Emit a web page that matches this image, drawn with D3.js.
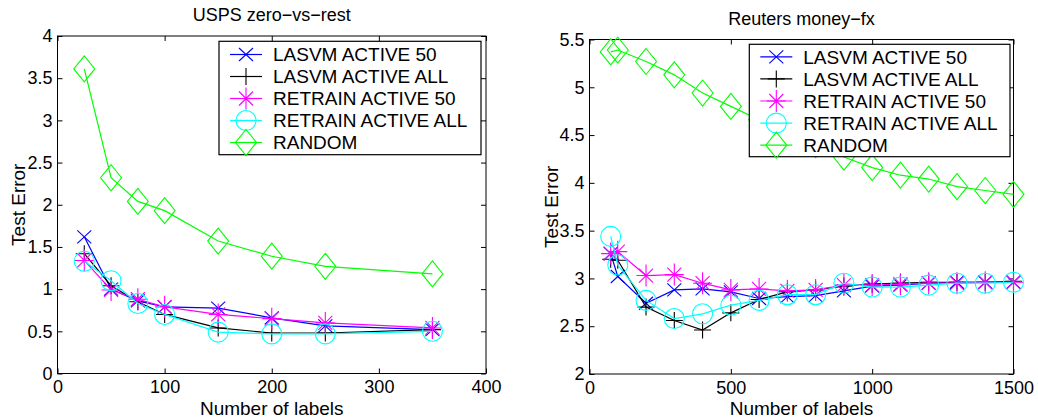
<!DOCTYPE html>
<html>
<head>
<meta charset="utf-8">
<script src="https://cdn.jsdelivr.net/npm/d3@7"></script>
<style>
  html, body { margin: 0; padding: 0; background: #fff; }
  svg { display: block; }
  text { font-family: "Liberation Sans", Arial, Helvetica, sans-serif; fill: #000; }
</style>
</head>
<body>
<svg id="chart" width="1038" height="418"></svg>
<script>
// ---- Data: USPS zero-vs-rest ----
const uspsLabels      = [25, 50, 75, 100, 150, 200, 250, 350];
const uspsLasvm50     = [1.62, 1.00, 0.86, 0.79, 0.775, 0.66, 0.565, 0.52];
const uspsLasvmAll    = [1.42, 1.04, 0.85, 0.70, 0.54, 0.48, 0.48, 0.52];
const uspsRetrain50   = [1.34, 0.99, 0.88, 0.79, 0.70, 0.65, 0.60, 0.54];
const uspsRetrainAll  = [1.33, 1.10, 0.83, 0.70, 0.49, 0.47, 0.47, 0.50];
const uspsRandom      = [3.61, 2.32, 2.04, 1.93, 1.57, 1.39, 1.27, 1.18];

// ---- Data: Reuters money-fx ----
const reutersLabels     = [75, 100, 200, 300, 400, 500, 600, 700, 800, 900, 1000, 1100, 1200, 1300, 1400, 1500];
const reutersLasvm50    = [3.26, 3.02, 2.74, 2.88, 2.89, 2.86, 2.79, 2.81, 2.82, 2.87, 2.92, 2.93, 2.95, 2.96, 2.96, 2.96];
const reutersLasvmAll   = [3.20, 3.19, 2.70, 2.56, 2.46, 2.64, 2.78, 2.86, 2.88, 2.92, 2.94, 2.95, 2.96, 2.96, 2.96, 2.97];
const reutersRetrain50  = [3.26, 3.28, 3.03, 3.04, 2.95, 2.88, 2.89, 2.87, 2.88, 2.93, 2.93, 2.94, 2.95, 2.95, 2.96, 2.96];
const reutersRetrainAll = [3.44, 3.14, 2.77, 2.58, 2.63, 2.72, 2.77, 2.83, 2.83, 2.95, 2.91, 2.91, 2.93, 2.95, 2.95, 2.96];
const reutersRandom     = [5.37, 5.39, 5.27, 5.13, 4.94, 4.80, 4.66, 4.52, 4.40, 4.27, 4.16, 4.08, 4.04, 3.96, 3.92, 3.88];

// ---- Series names and tick labels ----
const seriesNames = ["LASVM ACTIVE 50", "LASVM ACTIVE ALL", "RETRAIN ACTIVE 50", "RETRAIN ACTIVE ALL", "RANDOM"];
const uspsXTicks    = [0, 100, 200, 300, 400];
const uspsYTicks    = [0, 0.5, 1, 1.5, 2, 2.5, 3, 3.5, 4];
const reutersXTicks = [0, 500, 1000, 1500];
const reutersYTicks = [2, 2.5, 3, 3.5, 4, 4.5, 5, 5.5];

// ---- Styles per series ----
const seriesColors  = ["#0000ff", "#000000", "#ff00ff", "#00ffff", "#00ff00"];
const seriesMarkers = ["x", "plus", "star", "circle", "diamond"];

function markerPath(type) {
  switch (type) {
    case "x":       return "M-7,-6.5L7,6.5M-7,6.5L7,-6.5";
    case "plus":    return "M-8.5,0L8.5,0M0,-8.5L0,8.5";
    case "star":    return "M-9.5,0L9.5,0M0,-11L0,11M-7,-7L7,7M-7,7L7,-7";
    case "circle":  return "M10,0A10,10 0 1,1 -10,0A10,10 0 1,1 10,0Z";
    case "diamond": return "M0,-13L10.5,0L0,13L-10.5,0Z";
  }
}

const svg = d3.select("#chart");

function drawPanel(cfg) {
  const x = d3.scaleLinear().domain(cfg.xDomain).range([cfg.left, cfg.right]);
  const y = d3.scaleLinear().domain(cfg.yDomain).range([cfg.bottom, cfg.top]);
  const g = svg.append("g");

  // axes with inward ticks on all four sides
  const fmt = d => String(d);
  g.append("g").attr("transform", `translate(0,${cfg.bottom})`)
    .call(d3.axisBottom(x).tickValues(cfg.xTicks).tickFormat(fmt).tickSizeInner(-5).tickSizeOuter(0).tickPadding(7))
    .call(a => a.select(".domain").remove());
  g.append("g").attr("transform", `translate(0,${cfg.top})`)
    .call(d3.axisTop(x).tickValues(cfg.xTicks).tickFormat("").tickSizeInner(-5).tickSizeOuter(0))
    .call(a => a.select(".domain").remove());
  g.append("g").attr("transform", `translate(${cfg.left},0)`)
    .call(d3.axisLeft(y).tickValues(cfg.yTicks).tickFormat(fmt).tickSizeInner(-5).tickSizeOuter(0).tickPadding(5))
    .call(a => a.select(".domain").remove());
  g.append("g").attr("transform", `translate(${cfg.right},0)`)
    .call(d3.axisRight(y).tickValues(cfg.yTicks).tickFormat("").tickSizeInner(-5).tickSizeOuter(0))
    .call(a => a.select(".domain").remove());
  g.selectAll(".tick text").attr("font-size", 18).attr("font-family", '"Liberation Sans", Arial, sans-serif').attr("fill", "#000");
  g.selectAll(".tick line").attr("stroke", "#000");

  g.append("rect")
    .attr("x", cfg.left).attr("y", cfg.top)
    .attr("width", cfg.right - cfg.left).attr("height", cfg.bottom - cfg.top)
    .attr("fill", "none").attr("stroke", "#000").attr("stroke-width", 1);

  // series
  const line = d3.line().x(d => x(d[0])).y(d => y(d[1]));
  cfg.series.forEach((vals, i) => {
    const pts = cfg.labels.map((l, k) => [l, vals[k]]);
    const sg = g.append("g");
    sg.append("path").datum(pts)
      .attr("d", line).attr("fill", "none")
      .attr("stroke", seriesColors[i]).attr("stroke-width", 1.2);
    sg.selectAll("path.m").data(pts).join("path").attr("class", "m")
      .attr("d", markerPath(seriesMarkers[i]))
      .attr("transform", d => `translate(${x(d[0])},${y(d[1])})`)
      .attr("fill", "none").attr("stroke", seriesColors[i]).attr("stroke-width", 1.1);
  });

  // legend
  const lg = g.append("g");
  lg.append("rect")
    .attr("x", cfg.legend.x).attr("y", cfg.legend.y)
    .attr("width", cfg.legend.w).attr("height", cfg.legend.h)
    .attr("fill", "#fff").attr("stroke", "#000").attr("stroke-width", 1.2);
  seriesNames.forEach((name, i) => {
    const ry = cfg.legend.row0 + i * cfg.legend.step;
    const lx0 = cfg.legend.x + 11, lx1 = lx0 + 32;
    lg.append("line").attr("x1", lx0).attr("x2", lx1).attr("y1", ry).attr("y2", ry)
      .attr("stroke", seriesColors[i]).attr("stroke-width", 1.2);
    lg.append("path").attr("d", markerPath(seriesMarkers[i]))
      .attr("transform", `translate(${(lx0 + lx1) / 2},${ry})`)
      .attr("fill", "none").attr("stroke", seriesColors[i]).attr("stroke-width", 1.1);
    lg.append("text").attr("x", cfg.legend.x + 54).attr("y", ry + 6.8)
      .attr("font-size", 19).text(name);
  });

  // titles and axis labels
  const cx = (cfg.left + cfg.right) / 2;
  g.append("text").attr("x", cx).attr("y", cfg.titleY)
    .attr("text-anchor", "middle").attr("font-size", 18).text(cfg.title);
  g.append("text").attr("x", cx).attr("y", 414.5)
    .attr("text-anchor", "middle").attr("font-size", 19).text("Number of labels");
  g.append("text")
    .attr("transform", `translate(${cfg.yLabelX},${(cfg.top + cfg.bottom) / 2}) rotate(-90)`)
    .attr("text-anchor", "middle").attr("font-size", 19).text("Test Error");
}

drawPanel({
  left: 57.5, right: 486, top: 36, bottom: 373.5,
  xDomain: [0, 400], yDomain: [0, 4],
  xTicks: uspsXTicks, yTicks: uspsYTicks,
  labels: uspsLabels,
  series: [uspsLasvm50, uspsLasvmAll, uspsRetrain50, uspsRetrainAll, uspsRandom],
  legend: { x: 219, y: 41.3, w: 262, h: 113.4, row0: 54.5, step: 22 },
  title: "USPS zero\u2212vs\u2212rest", titleY: 20.7, yLabelX: 25
});

drawPanel({
  left: 589.5, right: 1013.5, top: 39.5, bottom: 374,
  xDomain: [0, 1500], yDomain: [2, 5.5],
  xTicks: reutersXTicks, yTicks: reutersYTicks,
  labels: reutersLabels,
  series: [reutersLasvm50, reutersLasvmAll, reutersRetrain50, reutersRetrainAll, reutersRandom],
  legend: { x: 749.3, y: 44.3, w: 260.7, h: 112.4, row0: 56.8, step: 22.1 },
  title: "Reuters money\u2212fx", titleY: 25, yLabelX: 557.5
});
</script>
</body>
</html>
